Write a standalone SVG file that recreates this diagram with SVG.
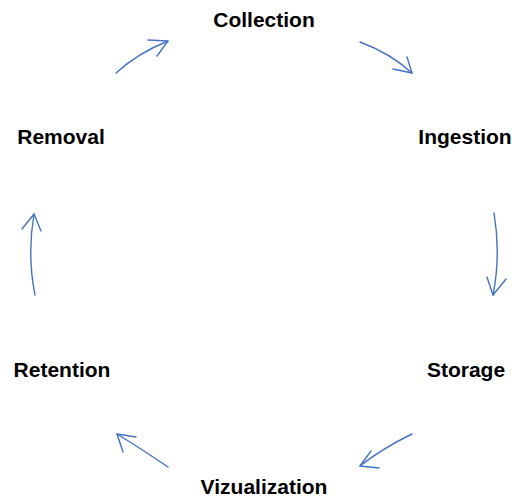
<svg xmlns="http://www.w3.org/2000/svg" width="512" height="498" viewBox="0 0 512 498">
  <style>
    .label { font-family: "Liberation Sans", Arial, sans-serif; font-weight: bold; font-size: 21px; fill: #000; text-anchor: middle; }
    .arc { fill: none; stroke: #4472C4; stroke-width: 1.4; stroke-linecap: round; stroke-linejoin: round; }
  </style>
  <rect width="512" height="498" fill="#fff"/>

  <!-- lifecycle stages -->
  <g id="collection"><text class="label" x="264" y="27">Collection</text></g>
  <g id="ingestion"><text class="label" x="465" y="144">Ingestion</text></g>
  <g id="storage"><text class="label" x="466" y="377">Storage</text></g>
  <g id="vizualization"><text class="label" x="264" y="494">Vizualization</text></g>
  <g id="retention"><text class="label" x="62" y="377">Retention</text></g>
  <g id="removal"><text class="label" x="61" y="144">Removal</text></g>

  <!-- curved arrows between stages -->
  <g id="connectors">
    <path class="arc" d="M116,73 Q138,53 168,41"/>
    <path class="arc" d="M148,40 L168,41 L157,56"/>

    <path class="arc" d="M360,42 Q390,53 412,73"/>
    <path class="arc" d="M393,69 L412,73 L407,57"/>

    <path class="arc" d="M494,213 Q501,255 493,295"/>
    <path class="arc" d="M487,277 L493,295 L506,279"/>

    <path class="arc" d="M412,434 Q383,448 360,466"/>
    <path class="arc" d="M371,451 L360,466 L379,468"/>

    <path class="arc" d="M168,467 Q140,448 117,434"/>
    <path class="arc" d="M136,437 L117,434 L123,452"/>

    <path class="arc" d="M35,295 Q27,255 34,214"/>
    <path class="arc" d="M22,229 L34,214 L41,231"/>
  </g>
</svg>
